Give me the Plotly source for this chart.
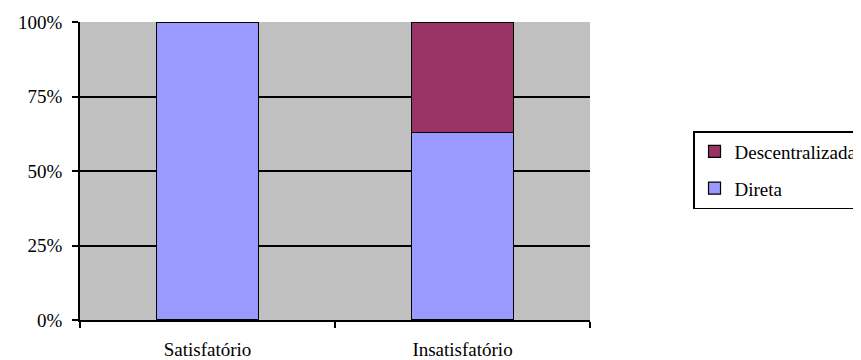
import plotly.graph_objects as go

categories = ["Satisfatório", "Insatisfatório"]
direta = [100, 63]
descentralizada = [0, 37]
y_ticks = [0, 25, 50, 75, 100]
y_tick_labels = ["0%", "25%", "50%", "75%", "100%"]

SERIF = "Liberation Serif"
FS = 19

fig = go.Figure()
fig.add_trace(go.Bar(x=categories, y=direta, name="Direta", legendgroup="a", legendrank=2,
                     marker=dict(color="#9999FF", line=dict(color="black", width=1.2)),
                     width=0.4))
fig.add_trace(go.Bar(x=categories, y=descentralizada, name="Descentralizada", legendgroup="b",
                     legendrank=1,
                     marker=dict(color="#993366", line=dict(color="black", width=1.2)),
                     width=0.4))

fig.update_layout(
    barmode="stack",
    width=861, height=360,
    margin=dict(l=72, r=279, t=14, b=48, autoexpand=False),
    paper_bgcolor="white",
    plot_bgcolor="#C0C0C0",
    font=dict(family=SERIF, size=FS, color="black"),
    showlegend=True,
    legend=dict(x=1.202, y=0.503, xanchor="left", yanchor="middle",
                bordercolor="black", borderwidth=1.5, bgcolor="white",
                traceorder="grouped", tracegroupgap=9,
                font=dict(family=SERIF, size=FS)),
)
fig.update_xaxes(
    tickson="boundaries", ticks="outside", ticklen=6, tickcolor="black", tickwidth=1.5,
    showline=True, linecolor="black", linewidth=1.5, showgrid=False,
    ticklabelstandoff=11, tickfont=dict(family=SERIF, size=FS),
)
fig.update_yaxes(
    range=[0, 100], tickmode="array", tickvals=y_ticks, ticktext=y_tick_labels,
    ticks="outside", ticklen=6, tickcolor="black", tickwidth=1.5,
    showline=True, linecolor="black", linewidth=1.5,
    showgrid=True, gridcolor="black", gridwidth=1.5, zeroline=False,
    ticklabelstandoff=6, tickfont=dict(family=SERIF, size=FS),
)
fig.write_html("out.html")
